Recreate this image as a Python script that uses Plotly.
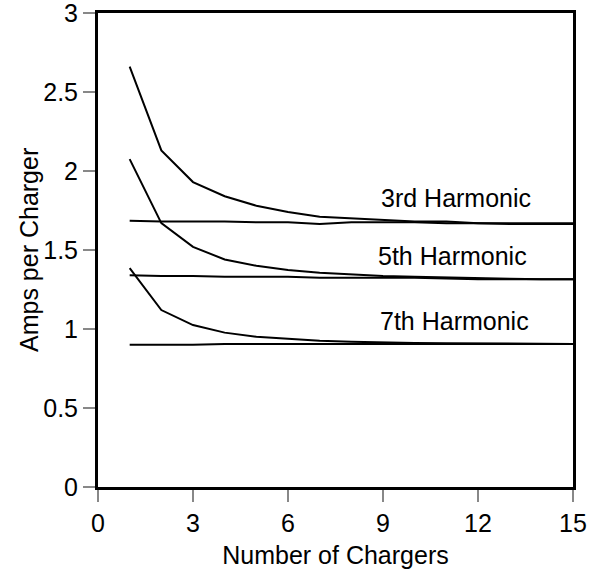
import plotly.graph_objects as go

chargers = list(range(1, 16))
h3_per_charger = [2.66, 2.13, 1.93, 1.84, 1.78, 1.74, 1.71, 1.70, 1.69, 1.68, 1.68, 1.67, 1.67, 1.67, 1.67]
h3_flat = [1.685, 1.68, 1.68, 1.68, 1.675, 1.675, 1.665, 1.675, 1.675, 1.675, 1.67, 1.67, 1.665, 1.665, 1.665]
h5_per_charger = [2.075, 1.67, 1.52, 1.44, 1.40, 1.373, 1.356, 1.345, 1.335, 1.33, 1.325, 1.32, 1.318, 1.315, 1.315]
h5_flat = [1.34, 1.335, 1.335, 1.33, 1.33, 1.33, 1.325, 1.325, 1.325, 1.325, 1.32, 1.315, 1.315, 1.315, 1.315]
h7_per_charger = [1.385, 1.12, 1.025, 0.977, 0.951, 0.937, 0.926, 0.92, 0.915, 0.912, 0.91, 0.908, 0.906, 0.905, 0.905]
h7_flat = [0.90, 0.90, 0.90, 0.905, 0.905, 0.905, 0.905, 0.905, 0.905, 0.905, 0.905, 0.905, 0.905, 0.905, 0.905]

labels = ["3rd Harmonic", "5th Harmonic", "7th Harmonic"]
label_x = [11.3, 11.2, 11.25]
label_y = [1.83, 1.465, 1.05]

xticks = [0, 3, 6, 9, 12, 15]
yticks = [0, 0.5, 1, 1.5, 2, 2.5, 3]
ytick_text = ["0", "0.5", "1", "1.5", "2", "2.5", "3"]

font_family = "Liberation Sans, Arial, sans-serif"
fs = 25

fig = go.Figure()
for ys in [h3_per_charger, h3_flat, h5_per_charger, h5_flat, h7_per_charger, h7_flat]:
    fig.add_trace(go.Scatter(x=chargers, y=ys, mode="lines",
                             line=dict(color="black", width=2),
                             showlegend=False, hoverinfo="skip"))

for t, lx, ly in zip(labels, label_x, label_y):
    fig.add_annotation(x=lx, y=ly, text=t, showarrow=False,
                       font=dict(family=font_family, size=fs, color="black"))

# y-axis title as rotated annotation for precise placement
fig.add_annotation(xref="paper", yref="paper", x=(29 - 98) / 475, y=0.5,
                   text="Amps per Charger", textangle=-90, showarrow=False,
                   xanchor="center", yanchor="middle",
                   font=dict(family=font_family, size=fs, color="black"))

fig.update_layout(
    width=589, height=579,
    margin=dict(l=98, r=16, t=13, b=92),
    paper_bgcolor="white", plot_bgcolor="white",
    font=dict(family=font_family, size=fs, color="black"),
    showlegend=False,
)
fig.update_xaxes(range=[0, 15], tickvals=xticks, ticktext=[str(v) for v in xticks],
                 showgrid=False, zeroline=False, automargin=False,
                 ticklabeloverflow="allow",
                 showline=True, linecolor="black", linewidth=3, mirror=True,
                 ticks="outside", ticklen=12, tickwidth=1.5, tickcolor="#888888",
                 title=dict(text="Number of Chargers", font=dict(size=fs), standoff=11))
fig.update_yaxes(range=[0, 3], tickvals=yticks, ticktext=ytick_text,
                 showgrid=False, zeroline=False, automargin=False,
                 ticklabeloverflow="allow",
                 showline=True, linecolor="black", linewidth=3, mirror=True,
                 ticks="outside", ticklen=12, tickwidth=1.5, tickcolor="#888888")

fig.write_html("out.html")
